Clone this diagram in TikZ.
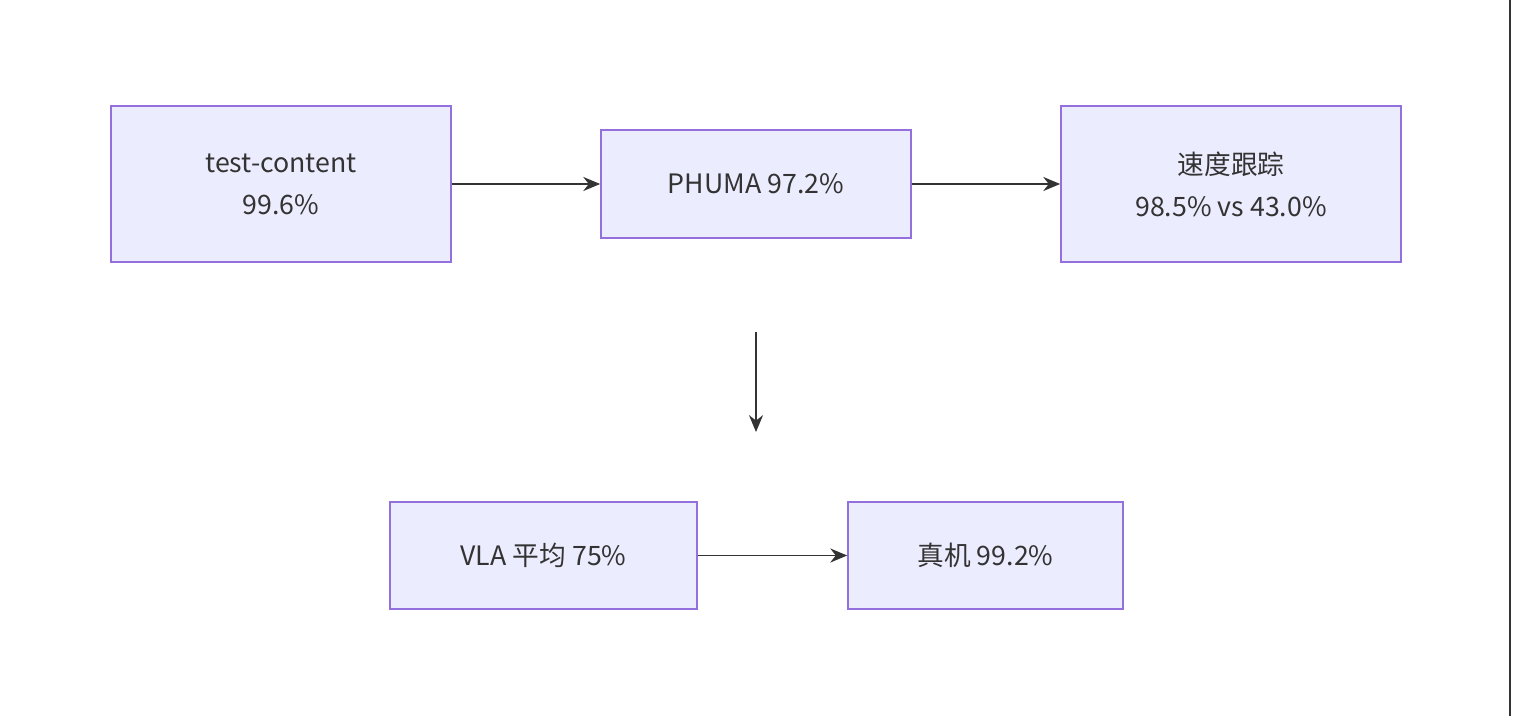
\documentclass[tikz,border=0pt]{standalone}
\usepackage{fontspec}
\setmainfont{Noto Sans CJK SC}
\usetikzlibrary{positioning,arrows.meta}
\definecolor{boxfill}{HTML}{ECECFF}
\definecolor{boxline}{HTML}{9370DB}
\definecolor{ink}{HTML}{333333}
\tikzset{
    stage/.style={draw=boxline, fill=boxfill, line width=1.2pt, inner sep=0pt,
        align=center, text=ink, font=\fontsize{19}{30}\selectfont},
    flow/.style={draw=ink, line width=1.2pt, -{Stealth[length=12pt,width=10pt]}}
}
\begin{document}
\begin{tikzpicture}[x=0.025cm, y=-0.025cm]
    \useasboundingbox (0,0) rectangle (1514,716);
    \draw[ink, line width=1.5pt] (1510,0) -- (1510,716);

    % top row
    \node[stage, minimum width=340*0.025cm, minimum height=156*0.025cm] (test) at (281,184) {test-content\\99.6\%};
    \node[stage, minimum width=310*0.025cm, minimum height=108*0.025cm] (phuma) at (756,184) {PHUMA 97.2\%};
    \node[stage, minimum width=340*0.025cm, minimum height=156*0.025cm] (speed) at (1231,184) {速度跟踪\\98.5\% vs 43.0\%};

    % bottom row
    \node[stage, minimum width=307*0.025cm, minimum height=107*0.025cm] (vla) at (543.5,555.5) {VLA 平均 75\%};
    \node[stage, minimum width=275*0.025cm, minimum height=107*0.025cm] (real) at (985.5,555.5) {真机 99.2\%};

    % connectors
    \coordinate (down top) at (756,332);
    \coordinate (down end) at (756,432);
    \draw[flow] (test) -- (phuma);
    \draw[flow] (phuma) -- (speed);
    \draw[flow] (down top) -- (down end);
    \draw[flow] (vla) -- (real);
\end{tikzpicture}
\end{document}
